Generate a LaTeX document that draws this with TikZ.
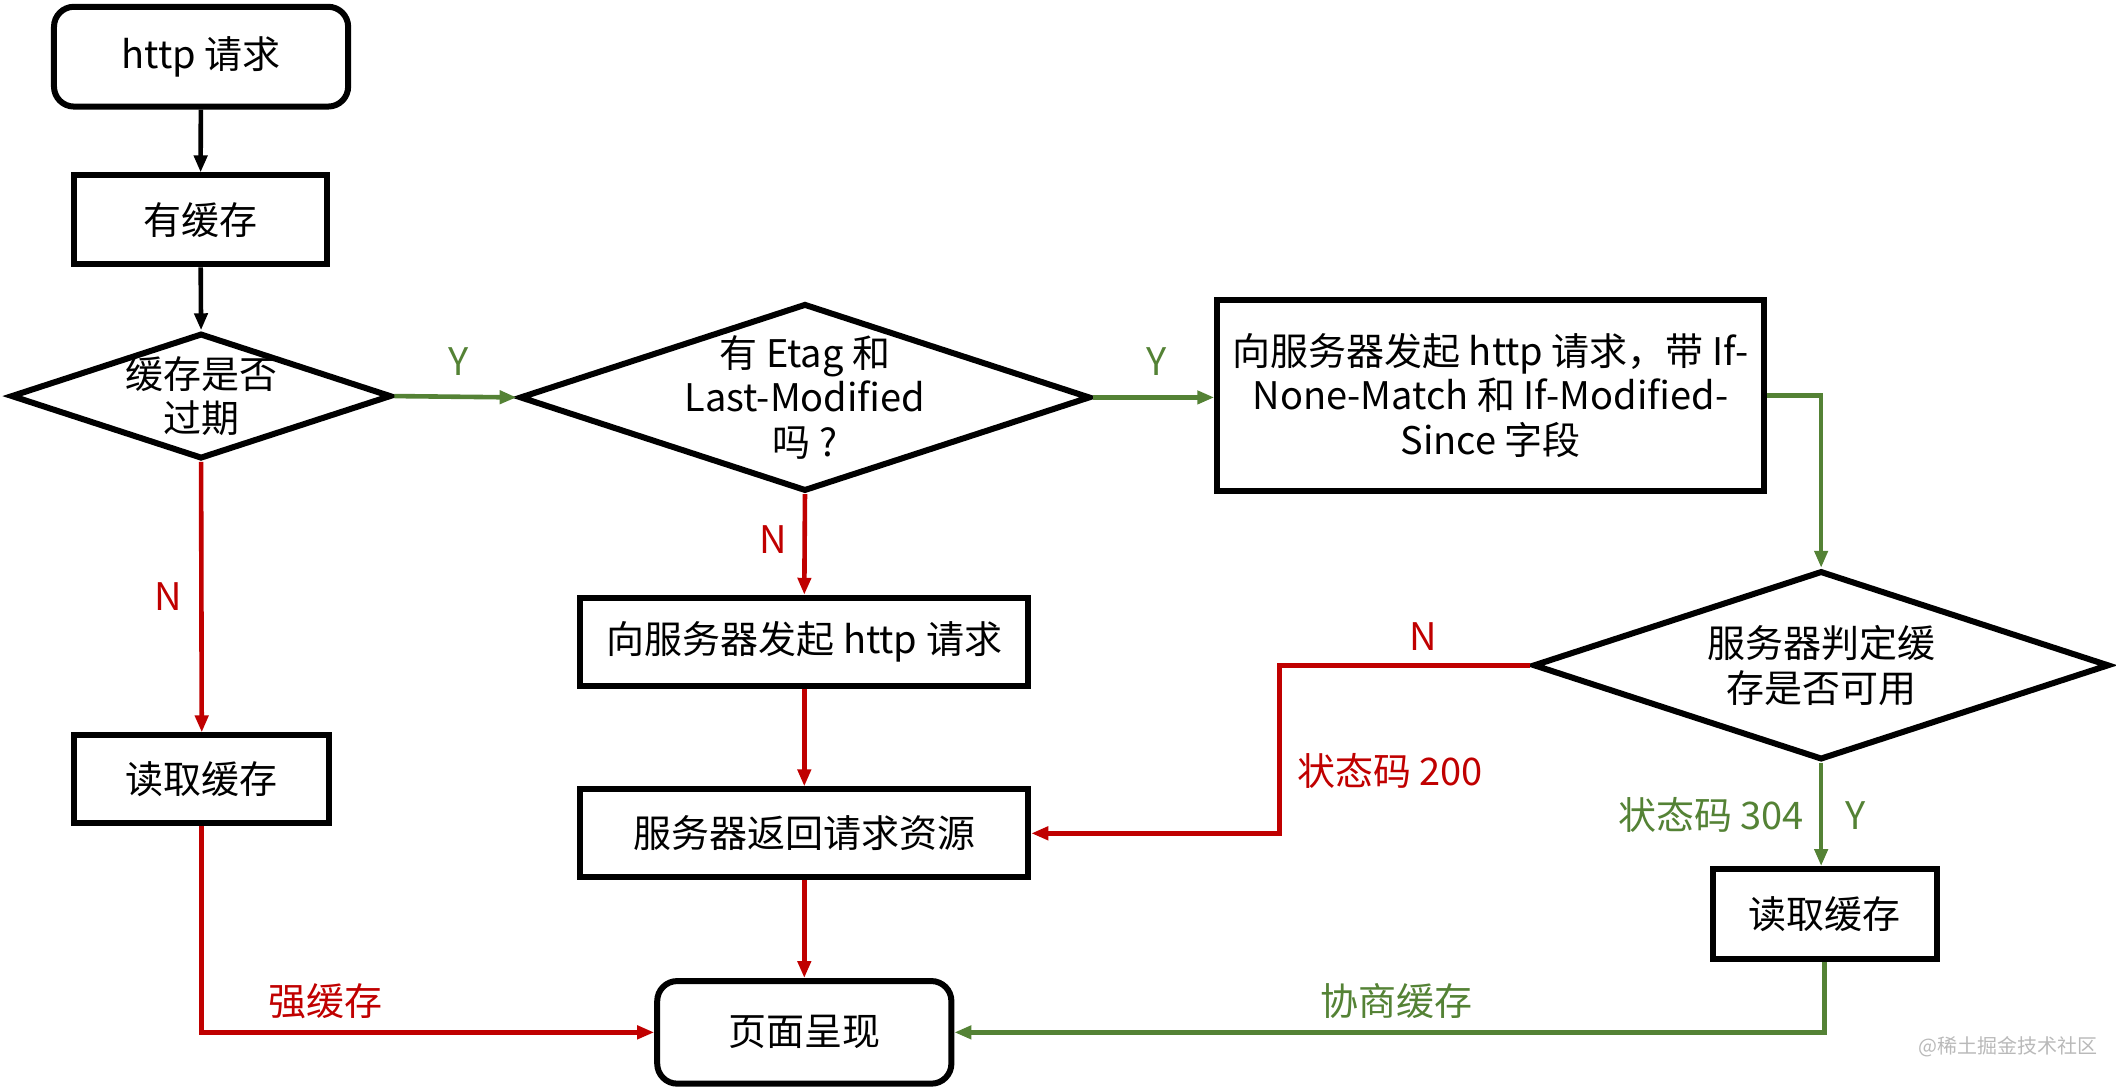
\documentclass[tikz,border=0pt]{standalone}
\usepackage{fontspec}
\setmainfont{Noto Sans CJK SC}
\usetikzlibrary{arrows.meta,shapes.geometric}
\definecolor{cred}{RGB}{192,0,0}
\definecolor{cgreen}{RGB}{84,130,53}
\definecolor{cwm}{RGB}{185,185,185}
\begin{document}
\begin{tikzpicture}[x=0.6748pt,y=-0.6748pt,
  font=\fontsize{19}{22.3}\selectfont,
  box/.style={draw=black, line width=3pt, rectangle, inner sep=0pt, align=center},
  rbox/.style={box, rounded corners=10pt},
  dia/.style={draw=black, line width=3pt, diamond, inner sep=0pt},
  txt/.style={align=center, inner sep=0pt},
  arr/.style={line width=2.3pt, -{Triangle[length=8.5pt,width=6.5pt]}},
  blk/.style={arr, draw=black},
  rl/.style={arr, draw=cred},
  gl/.style={arr, draw=cgreen},
  rlab/.style={inner sep=0pt, text=cred},
  glab/.style={inner sep=0pt, text=cgreen}]
\useasboundingbox (0,0) rectangle (1568,805.5);

% nodes
\node[rbox, minimum width=147.1pt, minimum height=49.9pt] (req) at (149,42) {http 请求};
\node[box, minimum width=126.2pt, minimum height=44.5pt] (has) at (148.5,163) {有缓存};
\node[dia, minimum width=190.3pt, minimum height=62.8pt] (exp) at (149,293.5) {};
\node[txt] (expt) at (exp) {缓存是否\\过期};
\node[dia, minimum width=285.4pt, minimum height=93.8pt] (etag) at (596.5,294.5) {};
\node[txt] (etagt) at (etag) {有 Etag 和\\Last-Modified\\吗 ?};
\node[box, minimum width=273.3pt, minimum height=95.8pt] (cond) at (1104.5,293) {向服务器发起 http 请求，带 If-\\None-Match 和 If-Modified-\\Since 字段};
\node[dia, minimum width=288.1pt, minimum height=94.5pt] (judge) at (1349.5,493) {};
\node[txt] (judget) at (judge) {服务器判定缓\\存是否可用};
\node[box, minimum width=224pt, minimum height=43.9pt] (send) at (596,475.5) {向服务器发起 http 请求};
\node[box, minimum width=224pt, minimum height=43.9pt] (ret) at (596,617.5) {服务器返回请求资源};
\node[box, minimum width=127.5pt, minimum height=43.9pt] (readl) at (149.5,577.5) {读取缓存};
\node[box, minimum width=112pt, minimum height=45.2pt] (readr) at (1352,677.5) {读取缓存};
\node[rbox, minimum width=147.1pt, minimum height=51.3pt] (show) at (596,765) {页面呈现};

% connectors
\draw[blk] (req) -- (has);
\draw[blk] (has) -- (exp.north);
\draw[gl] (exp.east) -- (etag.west);
\draw[gl] (etag.east) -- (etag.east -| cond.west);
\draw[gl] (cond.east) -| (judge.north);
\draw[rl] (exp.south) -- (readl.north);
\draw[rl] (etag.south) -- (send.north);
\draw[rl] (send) -- (ret);
\coordinate (bend) at (948,493);
\draw[rl] (judge.west) -- (bend) |- (ret.east);
\draw[gl] (judge.south) -- (judge.south |- readr.north);
\draw[rl] (ret) -- (show);
\draw[rl] (readl.south) |- (show.west);
\draw[gl] (readr.south) |- (show.east);

% labels
\node[glab] (y1) at (340,268) {Y};
\node[glab] (y2) at (857,268) {Y};
\node[rlab] (n1) at (125,442) {N};
\node[rlab] (n2) at (573,400) {N};
\node[rlab] (n3) at (1055,472) {N};
\node[rlab] (s200) at (1030,571) {状态码 200};
\node[glab] (s304) at (1268,604) {状态码 304};
\node[glab] (y3) at (1375,604) {Y};
\node[rlab] (strong) at (241,742) {强缓存};
\node[glab] (nego) at (1035,742) {协商缓存};
\node[inner sep=0pt, text=cwm, font=\fontsize{10}{12}\selectfont] (wm) at (1488,776) {@稀土掘金技术社区};
\end{tikzpicture}
\end{document}
